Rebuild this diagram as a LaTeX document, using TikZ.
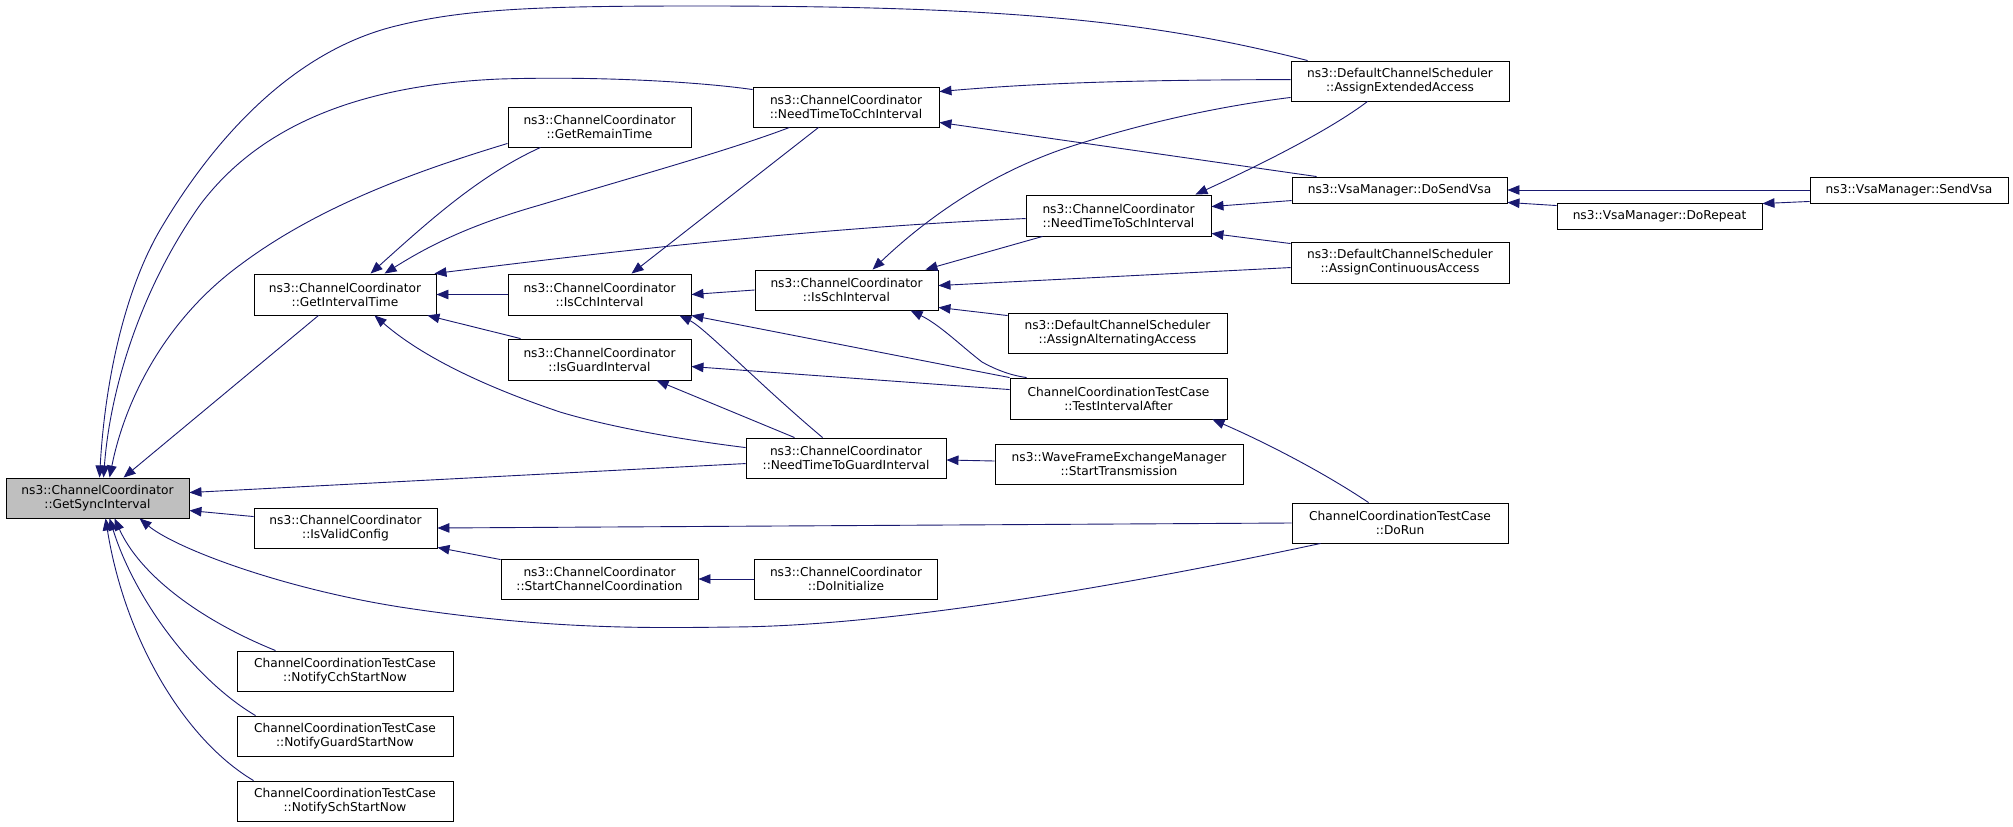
\documentclass[tikz,border=0pt]{standalone}
\usepackage{fontspec}
\setmainfont{DejaVu Sans}
\usetikzlibrary{arrows.meta,calc}
\definecolor{edgec}{HTML}{191970}
\definecolor{gsifill}{HTML}{BFBFBF}
\tikzset{
  box/.style={draw=black, line width=0.9pt, fill=white, inner sep=0pt, minimum height=40pt, align=center, font=\fontsize{12.2}{14}\selectfont},
  call/.style={draw=edgec, line width=0.9pt, {Triangle[length=12pt,width=9.5pt]}-}
}
\begin{document}
\begin{tikzpicture}[x=1pt,y=-1pt]
\useasboundingbox[fill=white] (0,0) rectangle (2013,827);
% column 0
\node[box, minimum width=183pt, fill=gsifill] (GSI) at (97.5,498) {ns3::ChannelCoordinator\\::GetSyncInterval};
% column 1
\node[box, minimum width=182pt, minimum height=41pt] (GIT) at (345,294.5) {ns3::ChannelCoordinator\\::GetIntervalTime};
\node[box, minimum width=183pt] (IsValid) at (345.5,528) {ns3::ChannelCoordinator\\::IsValidConfig};
\node[box, minimum width=216pt] (NC) at (345,671) {ChannelCoordinationTestCase\\::NotifyCchStartNow};
\node[box, minimum width=216pt] (NG) at (345,736) {ChannelCoordinationTestCase\\::NotifyGuardStartNow};
\node[box, minimum width=216pt] (NS) at (345,801) {ChannelCoordinationTestCase\\::NotifySchStartNow};
% column 2
\node[box, minimum width=183pt] (GRT) at (599.5,127) {ns3::ChannelCoordinator\\::GetRemainTime};
\node[box, minimum width=183pt, minimum height=41pt] (IsCch) at (599.5,294.5) {ns3::ChannelCoordinator\\::IsCchInterval};
\node[box, minimum width=183pt, minimum height=41pt] (IsGuard) at (599.5,359.5) {ns3::ChannelCoordinator\\::IsGuardInterval};
\node[box, minimum width=197pt] (SCC) at (599.5,579) {ns3::ChannelCoordinator\\::StartChannelCoordination};
% column 3
\node[box, minimum width=186pt] (NTCch) at (846,107) {ns3::ChannelCoordinator\\::NeedTimeToCchInterval};
\node[box, minimum width=183pt] (IsSch) at (846.5,290) {ns3::ChannelCoordinator\\::IsSchInterval};
\node[box, minimum width=200pt] (NTG) at (846,458) {ns3::ChannelCoordinator\\::NeedTimeToGuardInterval};
\node[box, minimum width=183pt] (DoInit) at (846,579) {ns3::ChannelCoordinator\\::DoInitialize};
% column 4
\node[box, minimum width=185pt, minimum height=41pt] (NTSch) at (1118.5,215.5) {ns3::ChannelCoordinator\\::NeedTimeToSchInterval};
\node[box, minimum width=219pt] (AAA) at (1117.5,333) {ns3::DefaultChannelScheduler\\::AssignAlternatingAccess};
\node[box, minimum width=217pt, minimum height=41pt] (TIA) at (1118.5,398.5) {ChannelCoordinationTestCase\\::TestIntervalAfter};
\node[box, minimum width=248pt] (Wave) at (1119,464) {ns3::WaveFrameExchangeManager\\::StartTransmission};
% column 5
\node[box, minimum width=218pt] (AEA) at (1400,81) {ns3::DefaultChannelScheduler\\::AssignExtendedAccess};
\node[box, minimum width=215pt, minimum height=26pt] (DSV) at (1399.5,190) {ns3::VsaManager::DoSendVsa};
\node[box, minimum width=218pt, minimum height=41pt] (ACA) at (1400,262.5) {ns3::DefaultChannelScheduler\\::AssignContinuousAccess};
\node[box, minimum width=216pt] (DoRun) at (1400,523) {ChannelCoordinationTestCase\\::DoRun};
% column 6, 7
\node[box, minimum width=205pt, minimum height=26pt] (DR) at (1659.5,216) {ns3::VsaManager::DoRepeat};
\node[box, minimum width=198pt, minimum height=26pt] (SV) at (1909,190) {ns3::VsaManager::SendVsa};

% ---- edges into GetSyncInterval
\draw[call] ($(GSI.north west)+(94,0)$) .. controls (105,380) and (125,290) .. (160,230) .. controls (210,145) and (290,50) .. (400,25) .. controls (470,8) and (550,6) .. (700,6) .. controls (1000,6) and (1150,20) .. ($(AEA.north west)+(17,0)$);
\draw[call] ($(GSI.north west)+(98,0)$) .. controls (110,390) and (140,290) .. (200,205) .. controls (260,125) and (360,85) .. (500,79) .. controls (600,76) and (700,82) .. ($(NTCch.north west)+(0,3)$);
\draw[call] ($(GSI.north west)+(104,0)$) .. controls (125,400) and (165,320) .. (240,265) .. controls (320,205) and (420,170) .. ($(GRT.south west)+(0,-4)$);
\draw[call] ($(GSI.north west)+(118,0)$) -- ($(GIT.south west)+(65,0)$);
\draw[call] ($(GSI.north east)+(0,15)$) -- ($(NTG.north west)+(0,26)$);
\draw[call] ($(GSI.north east)+(0,33)$) -- ($(IsValid.north west)+(0,9)$);
\draw[call] ($(GSI.south west)+(134,0)$) .. controls (175,548) and (280,588) .. (400,607) .. controls (550,630) and (650,628) .. (733,627) .. controls (900,626) and (1150,580) .. ($(DoRun.south west)+(29,0)$);
\draw[call] ($(GSI.south west)+(109,0)$) .. controls (140,575) and (200,620) .. ($(NC.north west)+(39,0)$);
\draw[call] ($(GSI.south west)+(104,0)$) .. controls (135,600) and (195,680) .. ($(NG.north west)+(19,0)$);
\draw[call] ($(GSI.south west)+(100,0)$) .. controls (125,640) and (185,740) .. ($(NS.north west)+(17,0)$);

% ---- edges into GetIntervalTime
\draw[call] ($(GIT.north west)+(117,0)$) .. controls (430,220) and (480,175) .. ($(GRT.south west)+(33,0)$);
\draw[call] ($(GIT.north west)+(131,0)$) .. controls (430,245) and (470,225) .. (540,205) .. controls (640,175) and (730,150) .. ($(NTCch.south west)+(37,0)$);
\draw[call] ($(GIT.north east)+(-2,0)$) .. controls (560,258) and (800,228) .. ($(NTSch.north west)+(0,24)$);
\draw[call] (GIT.east) -- (IsCch.west);
\draw[call] ($(GIT.south east)+(-9,0)$) -- ($(IsGuard.north west)+(13,0)$);
\draw[call] ($(GIT.south west)+(121,0)$) .. controls (420,355) and (480,385) .. (560,412) .. controls (620,430) and (700,442) .. ($(NTG.north west)+(0,10)$);

% ---- edges into IsCchInterval
\draw[call] ($(IsCch.north west)+(124,0)$) -- ($(NTCch.south west)+(66,0)$);
\draw[call] (IsCch.east) -- (IsSch.west);
\draw[call] (IsCch.south east) -- (TIA.north west);
\draw[call] ($(IsCch.south east)+(-12,0)$) .. controls (705,328) and (760,385) .. ($(NTG.north west)+(77,0)$);

% ---- edges into IsGuardInterval
\draw[call] ($(IsGuard.north east)+(0,28)$) -- ($(TIA.north west)+(0,12)$);
\draw[call] ($(IsGuard.south west)+(149,0)$) -- ($(NTG.north west)+(49,0)$);

% ---- edges into IsSchInterval
\draw[call] ($(IsSch.north west)+(118,0)$) .. controls (930,215) and (990,175) .. (1060,150) .. controls (1150,120) and (1230,105) .. ($(AEA.south west)+(0,-4)$);
\draw[call] ($(IsSch.north east)+(-13,0)$) -- ($(NTSch.south west)+(17,0)$);
\draw[call] ($(IsSch.north east)+(0,16)$) -- ($(ACA.north west)+(0,26)$);
\draw[call] ($(IsSch.south east)+(0,-3)$) -- ($(AAA.north west)+(0,3)$);
\draw[call] ($(IsSch.south west)+(156,0)$) .. controls (940,325) and (960,345) .. (982,362) .. controls (1000,372) and (1015,376) .. ($(TIA.north west)+(17,0)$);

% ---- edges into NeedTimeToCchInterval
\draw[call] ($(NTCch.north east)+(0,5)$) .. controls (1050,82) and (1150,80) .. ($(AEA.north west)+(0,19)$);
\draw[call] ($(NTCch.south east)+(0,-5)$) -- ($(DSV.north west)+(25,0)$);

% ---- edges into NeedTimeToSchInterval
\draw[call] ($(NTSch.north east)+(-16,0)$) .. controls (1260,165) and (1330,130) .. ($(AEA.south west)+(77,0)$);
\draw[call] ($(NTSch.north east)+(0,12)$) -- ($(DSV.north west)+(0,24)$);
\draw[call] ($(NTSch.south east)+(0,-3)$) -- ($(ACA.north west)+(0,2)$);

% ---- Vsa manager
\draw[call] (DSV.east) -- (SV.west);
\draw[call] ($(DSV.south east)+(0,-1)$) -- ($(DR.north west)+(0,3)$);
\draw[call] ($(DR.north east)+(0,1)$) -- ($(SV.south west)+(0,-2)$);

% ---- others
\draw[call] ($(TIA.south east)+(-15,0)$) .. controls (1260,440) and (1320,470) .. ($(DoRun.north west)+(77,0)$);
\draw[call] ($(NTG.east)+(0,2)$) -- ($(Wave.west)+(0,-3)$);
\draw[call] (IsValid.east) -- (DoRun.west);
\draw[call] ($(IsValid.south east)+(0,-1)$) -- ($(SCC.north west)+(0,1)$);
\draw[call] (SCC.east) -- (DoInit.west);
\end{tikzpicture}
\end{document}
